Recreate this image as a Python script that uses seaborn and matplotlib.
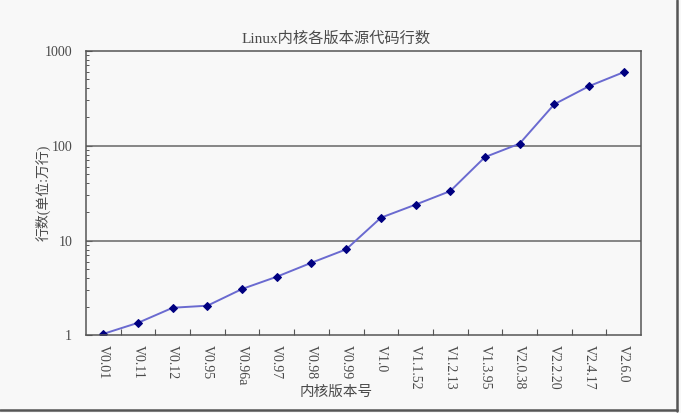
import matplotlib
matplotlib.use("Agg")
import matplotlib.pyplot as plt
import matplotlib.ticker as mticker
from matplotlib.lines import Line2D
import numpy as np
import pandas as pd
import seaborn as sns

# kernel versions and source size (unit: 10k lines)
versions = ["V0.01", "V0.11", "V0.12", "V0.95", "V0.96a", "V0.97", "V0.98", "V0.99",
            "V1.0", "V1.1.52", "V1.2.13", "V1.3.95", "V2.0.38", "V2.2.20", "V2.4.17", "V2.6.0"]
lines_10k = [1.04, 1.36, 1.96, 2.06, 3.09, 4.16, 5.84, 8.08,
             17.4, 23.9, 33.2, 75.7, 105, 273, 423, 594]
y_ticks = [1, 10, 100, 1000]
y_tick_labels = ["1", "10", "100", "1000"]

FONT = ["Liberation Serif", "Noto Sans CJK SC"]
TXT = "#4a4a4a"
BG = "#f8f8f8"

sns.set_style("white")
plt.rcParams["font.family"] = FONT

df = pd.DataFrame({"pos": np.arange(len(versions)), "lines": lines_10k})

fig = plt.figure(figsize=(6.81, 4.13), dpi=100, facecolor=BG)
ax = fig.add_axes([0.1263, 0.1877, 0.815, 0.6895])
ax.set_facecolor(BG)

sns.lineplot(
    ax=ax,
    data=df,
    x="pos",
    y="lines",
    color="#6a6ad0",
    linewidth=1.4,
    marker="D",
    markersize=4.5,
    markerfacecolor="#000080",
    markeredgecolor="#000080",
)

ax.set_yscale("log")
ax.set_ylim(1, 1000)
ax.set_xlim(-0.5, len(versions) - 0.5)

# horizontal grid at decades
for v in [10, 100]:
    ax.axhline(v, color="#666666", linewidth=1.1, zorder=1)

ax.yaxis.set_major_locator(mticker.FixedLocator(y_ticks))
ax.set_yticklabels(y_tick_labels, family=FONT, fontsize=10, color=TXT)
ax.yaxis.set_minor_locator(mticker.LogLocator(base=10, subs=np.arange(2, 10)))
ax.yaxis.set_minor_formatter(mticker.NullFormatter())
ax.tick_params(axis="y", which="major", direction="in", length=4, width=0.8,
               color="#555555", pad=10, left=True)
ax.tick_params(axis="y", which="minor", direction="in", length=2.5, width=0.7,
               color="#555555", left=True)

ax.set_xticks(np.arange(len(versions)))
ax.set_xticklabels(versions, rotation=270, family=FONT, fontsize=10, color=TXT,
                   ha="center", va="top")
ax.xaxis.set_minor_locator(mticker.FixedLocator(np.arange(0.5, len(versions) - 1, 1)))
ax.tick_params(axis="x", which="major", length=0, pad=7)
ax.tick_params(axis="x", which="minor", direction="in", length=4, width=0.8,
               color="#555555", bottom=True)

for s in ax.spines.values():
    s.set_color("#555555")
    s.set_linewidth(1.1)

ax.set_xlabel("内核版本号", family=FONT, fontsize=10.5, color=TXT)
ax.xaxis.set_label_coords(0.45, -0.175)
ax.set_ylabel("行数(单位:万行)", family=FONT, fontsize=10, color=TXT)
ax.yaxis.set_label_coords(-0.063, 0.5)
ax.set_title("Linux内核各版本源代码行数", family=FONT, fontsize=11, color=TXT, pad=6)
ax.title.set_position((0.451, 1.0))

# chart frame (right and bottom edges)
fig.add_artist(Line2D([0.994, 0.994], [0.005, 1.0], transform=fig.transFigure,
                      color="#555555", linewidth=1.8))
fig.add_artist(Line2D([0.0, 0.994], [0.007, 0.007], transform=fig.transFigure,
                      color="#555555", linewidth=1.8))

fig.savefig("out.png", dpi=100, facecolor=BG)
